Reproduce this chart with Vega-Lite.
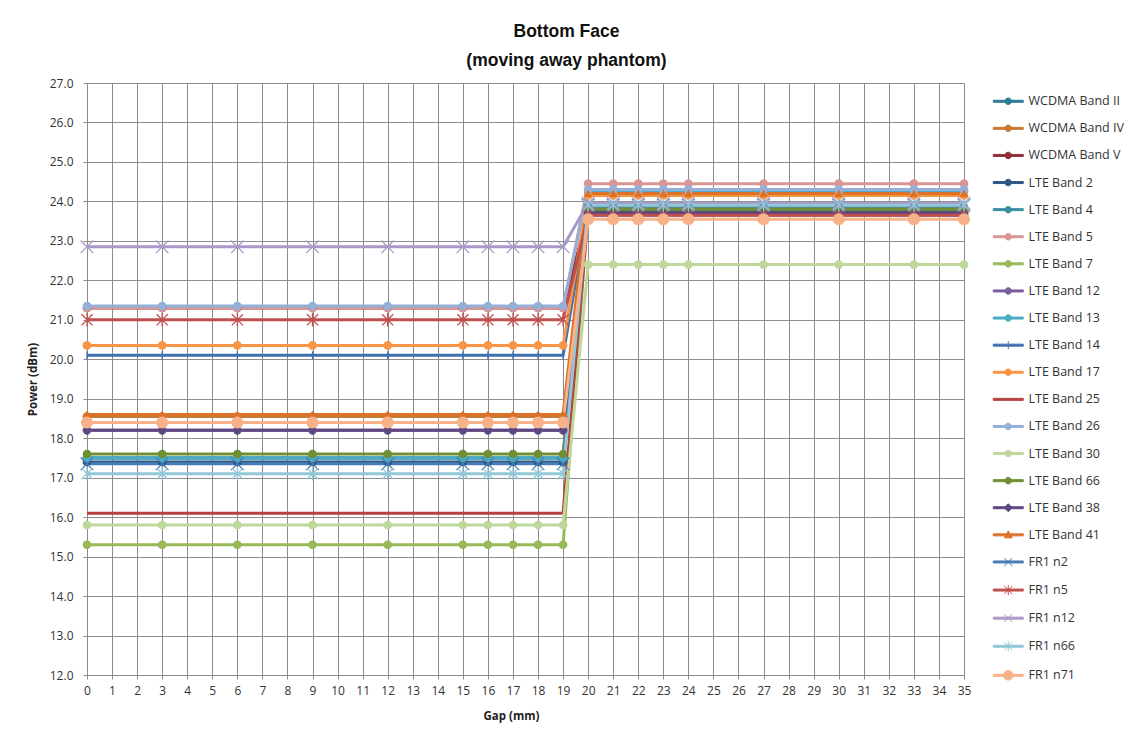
{
  "$schema": "https://vega.github.io/schema/vega-lite/v6.json",
  "width": 877,
  "height": 592,
  "autosize": "none",
  "padding": {"left": 87, "top": 83, "right": 168, "bottom": 65},
  "background": "white",
  "config": {
    "view": {"stroke": null},
    "font": "Open Sans",
    "axis": {
      "grid": true, "gridColor": "#8c8c8c", "gridWidth": 1,
      "domainColor": "#8c8c8c", "tickColor": "#8c8c8c", "tickSize": 4,
      "labelFont": "Open Sans", "labelFontSize": 12, "labelColor": "#333333",
      "titleFont": "Open Sans", "titleFontSize": 11.5, "titleFontWeight": "bold", "titleColor": "#222222"
    }
  },
  "title": {
    "text": ["Bottom Face", "(moving away phantom)"],
    "font": "Liberation Sans", "fontSize": 17.5, "fontWeight": "bold", "color": "#111111",
    "lineHeight": 29, "anchor": "middle", "frame": "group", "dx": 41, "offset": 8
  },
  "data": {"values": [
    {"band":"WCDMA Band II","gap":0,"power":17.5},{"band":"WCDMA Band II","gap":3,"power":17.5},{"band":"WCDMA Band II","gap":6,"power":17.5},{"band":"WCDMA Band II","gap":9,"power":17.5},{"band":"WCDMA Band II","gap":12,"power":17.5},{"band":"WCDMA Band II","gap":15,"power":17.5},{"band":"WCDMA Band II","gap":16,"power":17.5},{"band":"WCDMA Band II","gap":17,"power":17.5},{"band":"WCDMA Band II","gap":18,"power":17.5},{"band":"WCDMA Band II","gap":19,"power":17.5},{"band":"WCDMA Band II","gap":20,"power":23.8},{"band":"WCDMA Band II","gap":21,"power":23.8},{"band":"WCDMA Band II","gap":22,"power":23.8},{"band":"WCDMA Band II","gap":23,"power":23.8},{"band":"WCDMA Band II","gap":24,"power":23.8},{"band":"WCDMA Band II","gap":27,"power":23.8},{"band":"WCDMA Band II","gap":30,"power":23.8},{"band":"WCDMA Band II","gap":33,"power":23.8},{"band":"WCDMA Band II","gap":35,"power":23.8},
    {"band":"WCDMA Band IV","gap":0,"power":18.55},{"band":"WCDMA Band IV","gap":3,"power":18.55},{"band":"WCDMA Band IV","gap":6,"power":18.55},{"band":"WCDMA Band IV","gap":9,"power":18.55},{"band":"WCDMA Band IV","gap":12,"power":18.55},{"band":"WCDMA Band IV","gap":15,"power":18.55},{"band":"WCDMA Band IV","gap":16,"power":18.55},{"band":"WCDMA Band IV","gap":17,"power":18.55},{"band":"WCDMA Band IV","gap":18,"power":18.55},{"band":"WCDMA Band IV","gap":19,"power":18.55},{"band":"WCDMA Band IV","gap":20,"power":23.75},{"band":"WCDMA Band IV","gap":21,"power":23.75},{"band":"WCDMA Band IV","gap":22,"power":23.75},{"band":"WCDMA Band IV","gap":23,"power":23.75},{"band":"WCDMA Band IV","gap":24,"power":23.75},{"band":"WCDMA Band IV","gap":27,"power":23.75},{"band":"WCDMA Band IV","gap":30,"power":23.75},{"band":"WCDMA Band IV","gap":33,"power":23.75},{"band":"WCDMA Band IV","gap":35,"power":23.75},
    {"band":"WCDMA Band V","gap":0,"power":21.3},{"band":"WCDMA Band V","gap":3,"power":21.3},{"band":"WCDMA Band V","gap":6,"power":21.3},{"band":"WCDMA Band V","gap":9,"power":21.3},{"band":"WCDMA Band V","gap":12,"power":21.3},{"band":"WCDMA Band V","gap":15,"power":21.3},{"band":"WCDMA Band V","gap":16,"power":21.3},{"band":"WCDMA Band V","gap":17,"power":21.3},{"band":"WCDMA Band V","gap":18,"power":21.3},{"band":"WCDMA Band V","gap":19,"power":21.3},{"band":"WCDMA Band V","gap":20,"power":23.7},{"band":"WCDMA Band V","gap":21,"power":23.7},{"band":"WCDMA Band V","gap":22,"power":23.7},{"band":"WCDMA Band V","gap":23,"power":23.7},{"band":"WCDMA Band V","gap":24,"power":23.7},{"band":"WCDMA Band V","gap":27,"power":23.7},{"band":"WCDMA Band V","gap":30,"power":23.7},{"band":"WCDMA Band V","gap":33,"power":23.7},{"band":"WCDMA Band V","gap":35,"power":23.7},
    {"band":"LTE Band 2","gap":0,"power":17.4},{"band":"LTE Band 2","gap":3,"power":17.4},{"band":"LTE Band 2","gap":6,"power":17.4},{"band":"LTE Band 2","gap":9,"power":17.4},{"band":"LTE Band 2","gap":12,"power":17.4},{"band":"LTE Band 2","gap":15,"power":17.4},{"band":"LTE Band 2","gap":16,"power":17.4},{"band":"LTE Band 2","gap":17,"power":17.4},{"band":"LTE Band 2","gap":18,"power":17.4},{"band":"LTE Band 2","gap":19,"power":17.4},{"band":"LTE Band 2","gap":20,"power":23.75},{"band":"LTE Band 2","gap":21,"power":23.75},{"band":"LTE Band 2","gap":22,"power":23.75},{"band":"LTE Band 2","gap":23,"power":23.75},{"band":"LTE Band 2","gap":24,"power":23.75},{"band":"LTE Band 2","gap":27,"power":23.75},{"band":"LTE Band 2","gap":30,"power":23.75},{"band":"LTE Band 2","gap":33,"power":23.75},{"band":"LTE Band 2","gap":35,"power":23.75},
    {"band":"LTE Band 4","gap":0,"power":17.5},{"band":"LTE Band 4","gap":3,"power":17.5},{"band":"LTE Band 4","gap":6,"power":17.5},{"band":"LTE Band 4","gap":9,"power":17.5},{"band":"LTE Band 4","gap":12,"power":17.5},{"band":"LTE Band 4","gap":15,"power":17.5},{"band":"LTE Band 4","gap":16,"power":17.5},{"band":"LTE Band 4","gap":17,"power":17.5},{"band":"LTE Band 4","gap":18,"power":17.5},{"band":"LTE Band 4","gap":19,"power":17.5},{"band":"LTE Band 4","gap":20,"power":23.85},{"band":"LTE Band 4","gap":21,"power":23.85},{"band":"LTE Band 4","gap":22,"power":23.85},{"band":"LTE Band 4","gap":23,"power":23.85},{"band":"LTE Band 4","gap":24,"power":23.85},{"band":"LTE Band 4","gap":27,"power":23.85},{"band":"LTE Band 4","gap":30,"power":23.85},{"band":"LTE Band 4","gap":33,"power":23.85},{"band":"LTE Band 4","gap":35,"power":23.85},
    {"band":"LTE Band 5","gap":0,"power":21.3},{"band":"LTE Band 5","gap":3,"power":21.3},{"band":"LTE Band 5","gap":6,"power":21.3},{"band":"LTE Band 5","gap":9,"power":21.3},{"band":"LTE Band 5","gap":12,"power":21.3},{"band":"LTE Band 5","gap":15,"power":21.3},{"band":"LTE Band 5","gap":16,"power":21.3},{"band":"LTE Band 5","gap":17,"power":21.3},{"band":"LTE Band 5","gap":18,"power":21.3},{"band":"LTE Band 5","gap":19,"power":21.3},{"band":"LTE Band 5","gap":20,"power":24.45},{"band":"LTE Band 5","gap":21,"power":24.45},{"band":"LTE Band 5","gap":22,"power":24.45},{"band":"LTE Band 5","gap":23,"power":24.45},{"band":"LTE Band 5","gap":24,"power":24.45},{"band":"LTE Band 5","gap":27,"power":24.45},{"band":"LTE Band 5","gap":30,"power":24.45},{"band":"LTE Band 5","gap":33,"power":24.45},{"band":"LTE Band 5","gap":35,"power":24.45},
    {"band":"LTE Band 7","gap":0,"power":15.3},{"band":"LTE Band 7","gap":3,"power":15.3},{"band":"LTE Band 7","gap":6,"power":15.3},{"band":"LTE Band 7","gap":9,"power":15.3},{"band":"LTE Band 7","gap":12,"power":15.3},{"band":"LTE Band 7","gap":15,"power":15.3},{"band":"LTE Band 7","gap":16,"power":15.3},{"band":"LTE Band 7","gap":17,"power":15.3},{"band":"LTE Band 7","gap":18,"power":15.3},{"band":"LTE Band 7","gap":19,"power":15.3},{"band":"LTE Band 7","gap":20,"power":23.8},{"band":"LTE Band 7","gap":21,"power":23.8},{"band":"LTE Band 7","gap":22,"power":23.8},{"band":"LTE Band 7","gap":23,"power":23.8},{"band":"LTE Band 7","gap":24,"power":23.8},{"band":"LTE Band 7","gap":27,"power":23.8},{"band":"LTE Band 7","gap":30,"power":23.8},{"band":"LTE Band 7","gap":33,"power":23.8},{"band":"LTE Band 7","gap":35,"power":23.8},
    {"band":"LTE Band 12","gap":0,"power":18.2},{"band":"LTE Band 12","gap":3,"power":18.2},{"band":"LTE Band 12","gap":6,"power":18.2},{"band":"LTE Band 12","gap":9,"power":18.2},{"band":"LTE Band 12","gap":12,"power":18.2},{"band":"LTE Band 12","gap":15,"power":18.2},{"band":"LTE Band 12","gap":16,"power":18.2},{"band":"LTE Band 12","gap":17,"power":18.2},{"band":"LTE Band 12","gap":18,"power":18.2},{"band":"LTE Band 12","gap":19,"power":18.2},{"band":"LTE Band 12","gap":20,"power":23.65},{"band":"LTE Band 12","gap":21,"power":23.65},{"band":"LTE Band 12","gap":22,"power":23.65},{"band":"LTE Band 12","gap":23,"power":23.65},{"band":"LTE Band 12","gap":24,"power":23.65},{"band":"LTE Band 12","gap":27,"power":23.65},{"band":"LTE Band 12","gap":30,"power":23.65},{"band":"LTE Band 12","gap":33,"power":23.65},{"band":"LTE Band 12","gap":35,"power":23.65},
    {"band":"LTE Band 13","gap":0,"power":17.5},{"band":"LTE Band 13","gap":3,"power":17.5},{"band":"LTE Band 13","gap":6,"power":17.5},{"band":"LTE Band 13","gap":9,"power":17.5},{"band":"LTE Band 13","gap":12,"power":17.5},{"band":"LTE Band 13","gap":15,"power":17.5},{"band":"LTE Band 13","gap":16,"power":17.5},{"band":"LTE Band 13","gap":17,"power":17.5},{"band":"LTE Band 13","gap":18,"power":17.5},{"band":"LTE Band 13","gap":19,"power":17.5},{"band":"LTE Band 13","gap":20,"power":24.25},{"band":"LTE Band 13","gap":21,"power":24.25},{"band":"LTE Band 13","gap":22,"power":24.25},{"band":"LTE Band 13","gap":23,"power":24.25},{"band":"LTE Band 13","gap":24,"power":24.25},{"band":"LTE Band 13","gap":27,"power":24.25},{"band":"LTE Band 13","gap":30,"power":24.25},{"band":"LTE Band 13","gap":33,"power":24.25},{"band":"LTE Band 13","gap":35,"power":24.25},
    {"band":"LTE Band 14","gap":0,"power":20.1},{"band":"LTE Band 14","gap":3,"power":20.1},{"band":"LTE Band 14","gap":6,"power":20.1},{"band":"LTE Band 14","gap":9,"power":20.1},{"band":"LTE Band 14","gap":12,"power":20.1},{"band":"LTE Band 14","gap":15,"power":20.1},{"band":"LTE Band 14","gap":16,"power":20.1},{"band":"LTE Band 14","gap":17,"power":20.1},{"band":"LTE Band 14","gap":18,"power":20.1},{"band":"LTE Band 14","gap":19,"power":20.1},{"band":"LTE Band 14","gap":20,"power":23.8},{"band":"LTE Band 14","gap":21,"power":23.8},{"band":"LTE Band 14","gap":22,"power":23.8},{"band":"LTE Band 14","gap":23,"power":23.8},{"band":"LTE Band 14","gap":24,"power":23.8},{"band":"LTE Band 14","gap":27,"power":23.8},{"band":"LTE Band 14","gap":30,"power":23.8},{"band":"LTE Band 14","gap":33,"power":23.8},{"band":"LTE Band 14","gap":35,"power":23.8},
    {"band":"LTE Band 17","gap":0,"power":20.35},{"band":"LTE Band 17","gap":3,"power":20.35},{"band":"LTE Band 17","gap":6,"power":20.35},{"band":"LTE Band 17","gap":9,"power":20.35},{"band":"LTE Band 17","gap":12,"power":20.35},{"band":"LTE Band 17","gap":15,"power":20.35},{"band":"LTE Band 17","gap":16,"power":20.35},{"band":"LTE Band 17","gap":17,"power":20.35},{"band":"LTE Band 17","gap":18,"power":20.35},{"band":"LTE Band 17","gap":19,"power":20.35},{"band":"LTE Band 17","gap":20,"power":24.15},{"band":"LTE Band 17","gap":21,"power":24.15},{"band":"LTE Band 17","gap":22,"power":24.15},{"band":"LTE Band 17","gap":23,"power":24.15},{"band":"LTE Band 17","gap":24,"power":24.15},{"band":"LTE Band 17","gap":27,"power":24.15},{"band":"LTE Band 17","gap":30,"power":24.15},{"band":"LTE Band 17","gap":33,"power":24.15},{"band":"LTE Band 17","gap":35,"power":24.15},
    {"band":"LTE Band 25","gap":0,"power":16.1},{"band":"LTE Band 25","gap":3,"power":16.1},{"band":"LTE Band 25","gap":6,"power":16.1},{"band":"LTE Band 25","gap":9,"power":16.1},{"band":"LTE Band 25","gap":12,"power":16.1},{"band":"LTE Band 25","gap":15,"power":16.1},{"band":"LTE Band 25","gap":16,"power":16.1},{"band":"LTE Band 25","gap":17,"power":16.1},{"band":"LTE Band 25","gap":18,"power":16.1},{"band":"LTE Band 25","gap":19,"power":16.1},{"band":"LTE Band 25","gap":20,"power":23.7},{"band":"LTE Band 25","gap":21,"power":23.7},{"band":"LTE Band 25","gap":22,"power":23.7},{"band":"LTE Band 25","gap":23,"power":23.7},{"band":"LTE Band 25","gap":24,"power":23.7},{"band":"LTE Band 25","gap":27,"power":23.7},{"band":"LTE Band 25","gap":30,"power":23.7},{"band":"LTE Band 25","gap":33,"power":23.7},{"band":"LTE Band 25","gap":35,"power":23.7},
    {"band":"LTE Band 26","gap":0,"power":21.35},{"band":"LTE Band 26","gap":3,"power":21.35},{"band":"LTE Band 26","gap":6,"power":21.35},{"band":"LTE Band 26","gap":9,"power":21.35},{"band":"LTE Band 26","gap":12,"power":21.35},{"band":"LTE Band 26","gap":15,"power":21.35},{"band":"LTE Band 26","gap":16,"power":21.35},{"band":"LTE Band 26","gap":17,"power":21.35},{"band":"LTE Band 26","gap":18,"power":21.35},{"band":"LTE Band 26","gap":19,"power":21.35},{"band":"LTE Band 26","gap":20,"power":24.3},{"band":"LTE Band 26","gap":21,"power":24.3},{"band":"LTE Band 26","gap":22,"power":24.3},{"band":"LTE Band 26","gap":23,"power":24.3},{"band":"LTE Band 26","gap":24,"power":24.3},{"band":"LTE Band 26","gap":27,"power":24.3},{"band":"LTE Band 26","gap":30,"power":24.3},{"band":"LTE Band 26","gap":33,"power":24.3},{"band":"LTE Band 26","gap":35,"power":24.3},
    {"band":"LTE Band 30","gap":0,"power":15.8},{"band":"LTE Band 30","gap":3,"power":15.8},{"band":"LTE Band 30","gap":6,"power":15.8},{"band":"LTE Band 30","gap":9,"power":15.8},{"band":"LTE Band 30","gap":12,"power":15.8},{"band":"LTE Band 30","gap":15,"power":15.8},{"band":"LTE Band 30","gap":16,"power":15.8},{"band":"LTE Band 30","gap":17,"power":15.8},{"band":"LTE Band 30","gap":18,"power":15.8},{"band":"LTE Band 30","gap":19,"power":15.8},{"band":"LTE Band 30","gap":20,"power":22.4},{"band":"LTE Band 30","gap":21,"power":22.4},{"band":"LTE Band 30","gap":22,"power":22.4},{"band":"LTE Band 30","gap":23,"power":22.4},{"band":"LTE Band 30","gap":24,"power":22.4},{"band":"LTE Band 30","gap":27,"power":22.4},{"band":"LTE Band 30","gap":30,"power":22.4},{"band":"LTE Band 30","gap":33,"power":22.4},{"band":"LTE Band 30","gap":35,"power":22.4},
    {"band":"LTE Band 66","gap":0,"power":17.6},{"band":"LTE Band 66","gap":3,"power":17.6},{"band":"LTE Band 66","gap":6,"power":17.6},{"band":"LTE Band 66","gap":9,"power":17.6},{"band":"LTE Band 66","gap":12,"power":17.6},{"band":"LTE Band 66","gap":15,"power":17.6},{"band":"LTE Band 66","gap":16,"power":17.6},{"band":"LTE Band 66","gap":17,"power":17.6},{"band":"LTE Band 66","gap":18,"power":17.6},{"band":"LTE Band 66","gap":19,"power":17.6},{"band":"LTE Band 66","gap":20,"power":23.8},{"band":"LTE Band 66","gap":21,"power":23.8},{"band":"LTE Band 66","gap":22,"power":23.8},{"band":"LTE Band 66","gap":23,"power":23.8},{"band":"LTE Band 66","gap":24,"power":23.8},{"band":"LTE Band 66","gap":27,"power":23.8},{"band":"LTE Band 66","gap":30,"power":23.8},{"band":"LTE Band 66","gap":33,"power":23.8},{"band":"LTE Band 66","gap":35,"power":23.8},
    {"band":"LTE Band 38","gap":0,"power":18.2},{"band":"LTE Band 38","gap":3,"power":18.2},{"band":"LTE Band 38","gap":6,"power":18.2},{"band":"LTE Band 38","gap":9,"power":18.2},{"band":"LTE Band 38","gap":12,"power":18.2},{"band":"LTE Band 38","gap":15,"power":18.2},{"band":"LTE Band 38","gap":16,"power":18.2},{"band":"LTE Band 38","gap":17,"power":18.2},{"band":"LTE Band 38","gap":18,"power":18.2},{"band":"LTE Band 38","gap":19,"power":18.2},{"band":"LTE Band 38","gap":20,"power":23.7},{"band":"LTE Band 38","gap":21,"power":23.7},{"band":"LTE Band 38","gap":22,"power":23.7},{"band":"LTE Band 38","gap":23,"power":23.7},{"band":"LTE Band 38","gap":24,"power":23.7},{"band":"LTE Band 38","gap":27,"power":23.7},{"band":"LTE Band 38","gap":30,"power":23.7},{"band":"LTE Band 38","gap":33,"power":23.7},{"band":"LTE Band 38","gap":35,"power":23.7},
    {"band":"LTE Band 41","gap":0,"power":18.6},{"band":"LTE Band 41","gap":3,"power":18.6},{"band":"LTE Band 41","gap":6,"power":18.6},{"band":"LTE Band 41","gap":9,"power":18.6},{"band":"LTE Band 41","gap":12,"power":18.6},{"band":"LTE Band 41","gap":15,"power":18.6},{"band":"LTE Band 41","gap":16,"power":18.6},{"band":"LTE Band 41","gap":17,"power":18.6},{"band":"LTE Band 41","gap":18,"power":18.6},{"band":"LTE Band 41","gap":19,"power":18.6},{"band":"LTE Band 41","gap":20,"power":24.2},{"band":"LTE Band 41","gap":21,"power":24.2},{"band":"LTE Band 41","gap":22,"power":24.2},{"band":"LTE Band 41","gap":23,"power":24.2},{"band":"LTE Band 41","gap":24,"power":24.2},{"band":"LTE Band 41","gap":27,"power":24.2},{"band":"LTE Band 41","gap":30,"power":24.2},{"band":"LTE Band 41","gap":33,"power":24.2},{"band":"LTE Band 41","gap":35,"power":24.2},
    {"band":"FR1 n2","gap":0,"power":17.35},{"band":"FR1 n2","gap":3,"power":17.35},{"band":"FR1 n2","gap":6,"power":17.35},{"band":"FR1 n2","gap":9,"power":17.35},{"band":"FR1 n2","gap":12,"power":17.35},{"band":"FR1 n2","gap":15,"power":17.35},{"band":"FR1 n2","gap":16,"power":17.35},{"band":"FR1 n2","gap":17,"power":17.35},{"band":"FR1 n2","gap":18,"power":17.35},{"band":"FR1 n2","gap":19,"power":17.35},{"band":"FR1 n2","gap":20,"power":23.9},{"band":"FR1 n2","gap":21,"power":23.9},{"band":"FR1 n2","gap":22,"power":23.9},{"band":"FR1 n2","gap":23,"power":23.9},{"band":"FR1 n2","gap":24,"power":23.9},{"band":"FR1 n2","gap":27,"power":23.9},{"band":"FR1 n2","gap":30,"power":23.9},{"band":"FR1 n2","gap":33,"power":23.9},{"band":"FR1 n2","gap":35,"power":23.9},
    {"band":"FR1 n5","gap":0,"power":21.0},{"band":"FR1 n5","gap":3,"power":21.0},{"band":"FR1 n5","gap":6,"power":21.0},{"band":"FR1 n5","gap":9,"power":21.0},{"band":"FR1 n5","gap":12,"power":21.0},{"band":"FR1 n5","gap":15,"power":21.0},{"band":"FR1 n5","gap":16,"power":21.0},{"band":"FR1 n5","gap":17,"power":21.0},{"band":"FR1 n5","gap":18,"power":21.0},{"band":"FR1 n5","gap":19,"power":21.0},{"band":"FR1 n5","gap":20,"power":23.65},{"band":"FR1 n5","gap":21,"power":23.65},{"band":"FR1 n5","gap":22,"power":23.65},{"band":"FR1 n5","gap":23,"power":23.65},{"band":"FR1 n5","gap":24,"power":23.65},{"band":"FR1 n5","gap":27,"power":23.65},{"band":"FR1 n5","gap":30,"power":23.65},{"band":"FR1 n5","gap":33,"power":23.65},{"band":"FR1 n5","gap":35,"power":23.65},
    {"band":"FR1 n12","gap":0,"power":22.85},{"band":"FR1 n12","gap":3,"power":22.85},{"band":"FR1 n12","gap":6,"power":22.85},{"band":"FR1 n12","gap":9,"power":22.85},{"band":"FR1 n12","gap":12,"power":22.85},{"band":"FR1 n12","gap":15,"power":22.85},{"band":"FR1 n12","gap":16,"power":22.85},{"band":"FR1 n12","gap":17,"power":22.85},{"band":"FR1 n12","gap":18,"power":22.85},{"band":"FR1 n12","gap":19,"power":22.85},{"band":"FR1 n12","gap":20,"power":23.95},{"band":"FR1 n12","gap":21,"power":23.95},{"band":"FR1 n12","gap":22,"power":23.95},{"band":"FR1 n12","gap":23,"power":23.95},{"band":"FR1 n12","gap":24,"power":23.95},{"band":"FR1 n12","gap":27,"power":23.95},{"band":"FR1 n12","gap":30,"power":23.95},{"band":"FR1 n12","gap":33,"power":23.95},{"band":"FR1 n12","gap":35,"power":23.95},
    {"band":"FR1 n66","gap":0,"power":17.1},{"band":"FR1 n66","gap":3,"power":17.1},{"band":"FR1 n66","gap":6,"power":17.1},{"band":"FR1 n66","gap":9,"power":17.1},{"band":"FR1 n66","gap":12,"power":17.1},{"band":"FR1 n66","gap":15,"power":17.1},{"band":"FR1 n66","gap":16,"power":17.1},{"band":"FR1 n66","gap":17,"power":17.1},{"band":"FR1 n66","gap":18,"power":17.1},{"band":"FR1 n66","gap":19,"power":17.1},{"band":"FR1 n66","gap":20,"power":23.9},{"band":"FR1 n66","gap":21,"power":23.9},{"band":"FR1 n66","gap":22,"power":23.9},{"band":"FR1 n66","gap":23,"power":23.9},{"band":"FR1 n66","gap":24,"power":23.9},{"band":"FR1 n66","gap":27,"power":23.9},{"band":"FR1 n66","gap":30,"power":23.9},{"band":"FR1 n66","gap":33,"power":23.9},{"band":"FR1 n66","gap":35,"power":23.9},
    {"band":"FR1 n71","gap":0,"power":18.4},{"band":"FR1 n71","gap":3,"power":18.4},{"band":"FR1 n71","gap":6,"power":18.4},{"band":"FR1 n71","gap":9,"power":18.4},{"band":"FR1 n71","gap":12,"power":18.4},{"band":"FR1 n71","gap":15,"power":18.4},{"band":"FR1 n71","gap":16,"power":18.4},{"band":"FR1 n71","gap":17,"power":18.4},{"band":"FR1 n71","gap":18,"power":18.4},{"band":"FR1 n71","gap":19,"power":18.4},{"band":"FR1 n71","gap":20,"power":23.55},{"band":"FR1 n71","gap":21,"power":23.55},{"band":"FR1 n71","gap":22,"power":23.55},{"band":"FR1 n71","gap":23,"power":23.55},{"band":"FR1 n71","gap":24,"power":23.55},{"band":"FR1 n71","gap":27,"power":23.55},{"band":"FR1 n71","gap":30,"power":23.55},{"band":"FR1 n71","gap":33,"power":23.55},{"band":"FR1 n71","gap":35,"power":23.55}
  ]},
  "encoding": {
    "x": {
      "field": "gap", "type": "quantitative",
      "scale": {"domain": [0, 35], "nice": false, "zero": false},
      "axis": {
        "values": [0,1,2,3,4,5,6,7,8,9,10,11,12,13,14,15,16,17,18,19,20,21,22,23,24,25,26,27,28,29,30,31,32,33,34,35],
        "title": "Gap (mm)", "labelPadding": 6, "titleX": 424, "titleY": 41, "titleBaseline": "middle", "labelFlush": false
      }
    },
    "y": {
      "field": "power", "type": "quantitative",
      "scale": {"domain": [12, 27], "nice": false, "zero": false},
      "axis": {
        "values": [12,13,14,15,16,17,18,19,20,21,22,23,24,25,26,27],
        "format": ".1f", "title": "Power (dBm)", "labelPadding": 10,
        "titleX": -54, "titleY": 296, "titleBaseline": "middle", "titleAngle": -90, "labelFlush": false
      }
    }
  },
  "layer": [
    {
      "mark": {"type": "line", "strokeWidth": 3},
      "encoding": {
        "color": {
          "field": "band", "type": "nominal",
          "scale": {
            "domain": ["WCDMA Band II","WCDMA Band IV","WCDMA Band V","LTE Band 2","LTE Band 4","LTE Band 5","LTE Band 7","LTE Band 12","LTE Band 13","LTE Band 14","LTE Band 17","LTE Band 25","LTE Band 26","LTE Band 30","LTE Band 66","LTE Band 38","LTE Band 41","FR1 n2","FR1 n5","FR1 n12","FR1 n66","FR1 n71"],
            "range": ["#2e7c95","#c97a32","#8e3139","#2b5882","#3a8fa3","#d99694","#97b957","#7a5fa0","#4bacc6","#3f6fae","#f79646","#b8413f","#94b0d8","#c0d79b","#6f8f35","#5e4680","#dc7228","#4a7db8","#c0504d","#a899c8","#92c8d8","#f8b28a"]
          },
          "legend": {
            "title": null, "orient": "none", "legendX": 915, "legendY": 12,
            "padding": 0, "symbolSize": 100, "symbolStrokeWidth": 1,
            "labelFont": "Open Sans", "labelFontSize": 12.5, "labelColor": "#333333",
            "labelOffset": 14, "rowPadding": 14.1, "symbolType": "M-3,-0.2L3,-0.2L3,0.2L-3,0.2Z",
            "encode": {
              "symbols": {
                "update": {
                  "fill": {"scale": "color", "field": "value"},
                  "stroke": {"scale": "color", "field": "value"},
                  "strokeWidth": {"value": 1},
                  "opacity": {"value": 1},
                  "shape": {"signal": "datum.value === 'LTE Band 38' ? 'M-3,-0.2L3,-0.2L3,0.2L-3,0.2ZM0,-0.8L0.8,0L0,0.8L-0.8,0Z' : datum.value === 'LTE Band 41' ? 'M-3,-0.2L3,-0.2L3,0.2L-3,0.2ZM0,-0.8L0.8,0.6L-0.8,0.6Z' : datum.value === 'LTE Band 14' ? 'M-3,-0.2L3,-0.2L3,0.2L-3,0.2ZM0,-0.8L0,0.8' : (datum.value === 'FR1 n2' || datum.value === 'FR1 n12') ? 'M-3,-0.2L3,-0.2L3,0.2L-3,0.2ZM-0.8,-0.8L0.8,0.8M-0.8,0.8L0.8,-0.8' : (datum.value === 'FR1 n5' || datum.value === 'FR1 n66') ? 'M-3,-0.2L3,-0.2L3,0.2L-3,0.2ZM-0.8,-0.8L0.8,0.8M-0.8,0.8L0.8,-0.8M0,-1L0,1' : datum.value === 'LTE Band 25' ? 'M-3,-0.2L3,-0.2L3,0.2L-3,0.2Z' : datum.value === 'FR1 n71' ? 'M-3,-0.2L3,-0.2L3,0.2L-3,0.2ZM0.95,0A0.95,0.95 0 1,1 -0.95,0A0.95,0.95 0 1,1 0.95,0Z' : 'M-3,-0.2L3,-0.2L3,0.2L-3,0.2ZM0.65,0A0.65,0.65 0 1,1 -0.65,0A0.65,0.65 0 1,1 0.65,0Z'"}
                }
              }
            }
          }
        }
      }
    },
    {
      "encoding": {
        "fill": {
          "field": "band", "type": "nominal", "legend": null,
          "scale": {
            "domain": ["WCDMA Band II","WCDMA Band IV","WCDMA Band V","LTE Band 2","LTE Band 4","LTE Band 5","LTE Band 7","LTE Band 12","LTE Band 13","LTE Band 14","LTE Band 17","LTE Band 25","LTE Band 26","LTE Band 30","LTE Band 66","LTE Band 38","LTE Band 41","FR1 n2","FR1 n5","FR1 n12","FR1 n66","FR1 n71"],
            "range": ["#2e7c95","#c97a32","#8e3139","#2b5882","#3a8fa3","#d99694","#97b957","#7a5fa0","#4bacc6","#3f6fae","#f79646","#b8413f","#94b0d8","#c0d79b","#6f8f35","#5e4680","#dc7228","#4a7db8","#c0504d","#a899c8","#92c8d8","#f8b28a"]
          }
        },
        "stroke": {
          "field": "band", "type": "nominal", "legend": null,
          "scale": {
            "domain": ["WCDMA Band II","WCDMA Band IV","WCDMA Band V","LTE Band 2","LTE Band 4","LTE Band 5","LTE Band 7","LTE Band 12","LTE Band 13","LTE Band 14","LTE Band 17","LTE Band 25","LTE Band 26","LTE Band 30","LTE Band 66","LTE Band 38","LTE Band 41","FR1 n2","FR1 n5","FR1 n12","FR1 n66","FR1 n71"],
            "range": ["#2e7c95","#c97a32","#8e3139","#2b5882","#3a8fa3","#d99694","#97b957","#7a5fa0","#4bacc6","#3f6fae","#f79646","#b8413f","#94b0d8","#c0d79b","#6f8f35","#5e4680","#dc7228","#4a7db8","#c0504d","#a899c8","#92c8d8","#f8b28a"]
          }
        }
      },
      "layer": [
        {
          "transform": [{"filter": {"field": "band", "oneOf": ["WCDMA Band II","WCDMA Band IV","WCDMA Band V","LTE Band 2","LTE Band 4","LTE Band 5","LTE Band 7","LTE Band 12","LTE Band 13","LTE Band 17","LTE Band 26","LTE Band 30","LTE Band 66"]}}],
          "mark": {"type": "point", "filled": true, "shape": "circle", "size": 55, "strokeWidth": 1.3, "opacity": 1}
        },
        {
          "transform": [{"filter": {"field": "band", "equal": "LTE Band 14"}}],
          "mark": {"type": "point", "filled": true, "shape": "M0,-1.1L0,1.1", "size": 55, "strokeWidth": 1.3, "opacity": 1}
        },
        {
          "transform": [{"filter": {"field": "band", "equal": "LTE Band 38"}}],
          "mark": {"type": "point", "filled": true, "shape": "diamond", "size": 55, "strokeWidth": 1.3, "opacity": 1}
        },
        {
          "transform": [{"filter": {"field": "band", "equal": "LTE Band 41"}}],
          "mark": {"type": "point", "filled": true, "shape": "triangle-up", "size": 40, "strokeWidth": 1.3, "opacity": 1}
        },
        {
          "transform": [{"filter": {"field": "band", "oneOf": ["FR1 n2", "FR1 n12"]}}],
          "mark": {"type": "point", "filled": true, "shape": "M-1.7,-1.7L1.7,1.7M-1.7,1.7L1.7,-1.7", "size": 55, "strokeWidth": 1.3, "opacity": 1}
        },
        {
          "transform": [{"filter": {"field": "band", "oneOf": ["FR1 n5", "FR1 n66"]}}],
          "mark": {"type": "point", "filled": true, "shape": "M-1.5,-1.5L1.5,1.5M-1.5,1.5L1.5,-1.5M0,-1.8L0,1.8", "size": 55, "strokeWidth": 1.3, "opacity": 1}
        },
        {
          "transform": [{"filter": {"field": "band", "equal": "FR1 n71"}}],
          "mark": {"type": "point", "filled": true, "shape": "M1.45,0A1.45,1.45 0 1,1 -1.45,0A1.45,1.45 0 1,1 1.45,0Z", "size": 55, "strokeWidth": 1.3, "opacity": 1}
        }
      ]
    }
  ]
}
